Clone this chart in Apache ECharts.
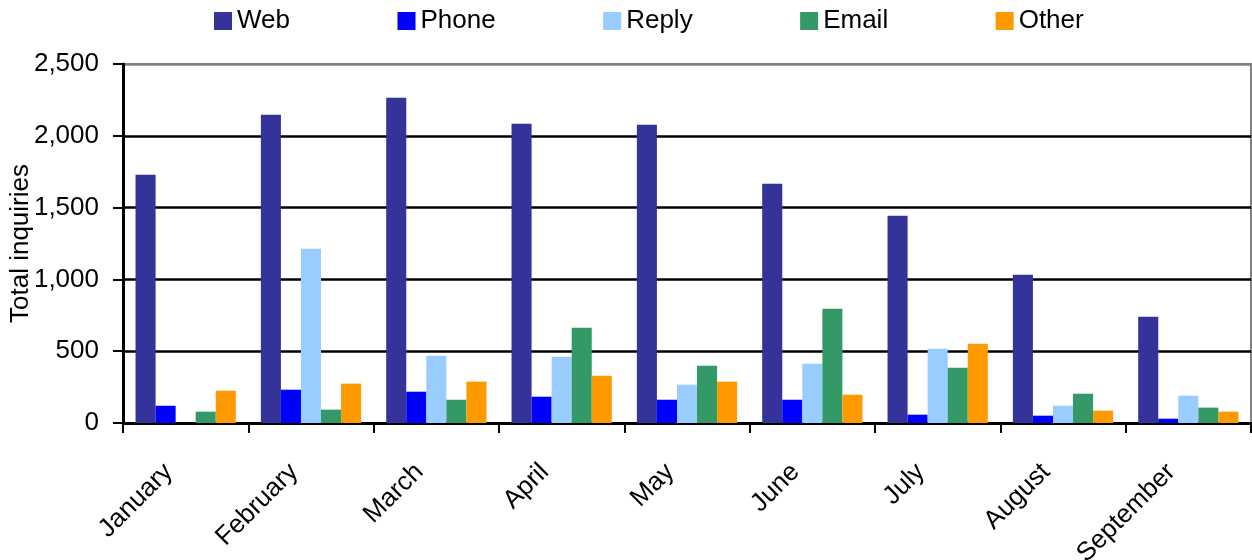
<!DOCTYPE html>
<html>
<head>
<meta charset="utf-8">
<script src="https://cdn.jsdelivr.net/npm/echarts@6/dist/echarts.min.js"></script>
<style>
html,body{margin:0;padding:0;background:#fff;}
#chart{width:1252px;height:560px;}
</style>
</head>
<body>
<div id="chart"></div>
<script>
var months = ['January','February','March','April','May','June','July','August','September'];
var web   = [1729, 2147, 2265, 2084, 2077, 1666, 1444, 1033, 740];
var phone = [120, 232, 218, 183, 162, 162, 58, 51, 30];
var reply = [0, 1214, 469, 462, 267, 413, 517, 121, 190];
var email = [79, 93, 162, 664, 399, 796, 385, 204, 107];
var other = [225, 274, 288, 329, 288, 197, 552, 86, 79];
var yTicks = [0, 500, 1000, 1500, 2000, 2500];

var FONT = '"Liberation Sans", Arial, sans-serif';
var chart = echarts.init(document.getElementById('chart'), null, {renderer:'canvas'});
function bar(name, data, color){
  return {name:name, type:'bar', data:data, barGap:'0%', barCategoryGap:'20%',
    itemStyle:{color:color}, emphasis:{disabled:true}};
}
chart.setOption({
  animation:false,
  textStyle:{fontFamily:FONT},
  legend:{
    top:8, left:214, padding:0, itemWidth:18, itemHeight:18, itemGap:107.5,
    icon:'rect',
    textStyle:{fontFamily:FONT, fontSize:26, color:'#000'},
    data:['Web','Phone','Reply','Email','Other']
  },
  grid:{left:123, right:1, top:64, bottom:137, outerBoundsMode:'none', containLabel:false,
    show:true, borderColor:'#808080', borderWidth:2, backgroundColor:'#fff'},
  xAxis:{
    type:'category', data:months,
    axisLine:{lineStyle:{color:'#000', width:3}},
    axisTick:{show:true, length:10, lineStyle:{color:'#000', width:2}},
    axisLabel:{rotate:45, margin:28, padding:[0,24,0,0], fontFamily:FONT, fontSize:26, color:'#000', interval:0}
  },
  yAxis:{
    type:'value', min:yTicks[0], max:yTicks[yTicks.length-1], interval:500,
    name:'Total inquiries', nameLocation:'middle', nameGap:89, nameRotate:90, nameMoveOverlap:false,
    nameTextStyle:{fontFamily:FONT, fontSize:26, color:'#000'},
    axisLine:{show:true, lineStyle:{color:'#000', width:3}},
    axisTick:{show:true, length:10, lineStyle:{color:'#000', width:2}},
    axisLabel:{margin:24, fontFamily:FONT, fontSize:26, color:'#000',
      formatter:function(v){return v.toLocaleString('en-US');}},
    splitLine:{show:true, lineStyle:{color:['#000','#000','#000','#000','#000','#808080'], width:2.5}}
  },
  series:[
    bar('Web', web, '#333399'),
    bar('Phone', phone, '#0000FF'),
    bar('Reply', reply, '#99CCFF'),
    bar('Email', email, '#339966'),
    bar('Other', other, '#FF9900')
  ]
});
</script>
</body>
</html>
